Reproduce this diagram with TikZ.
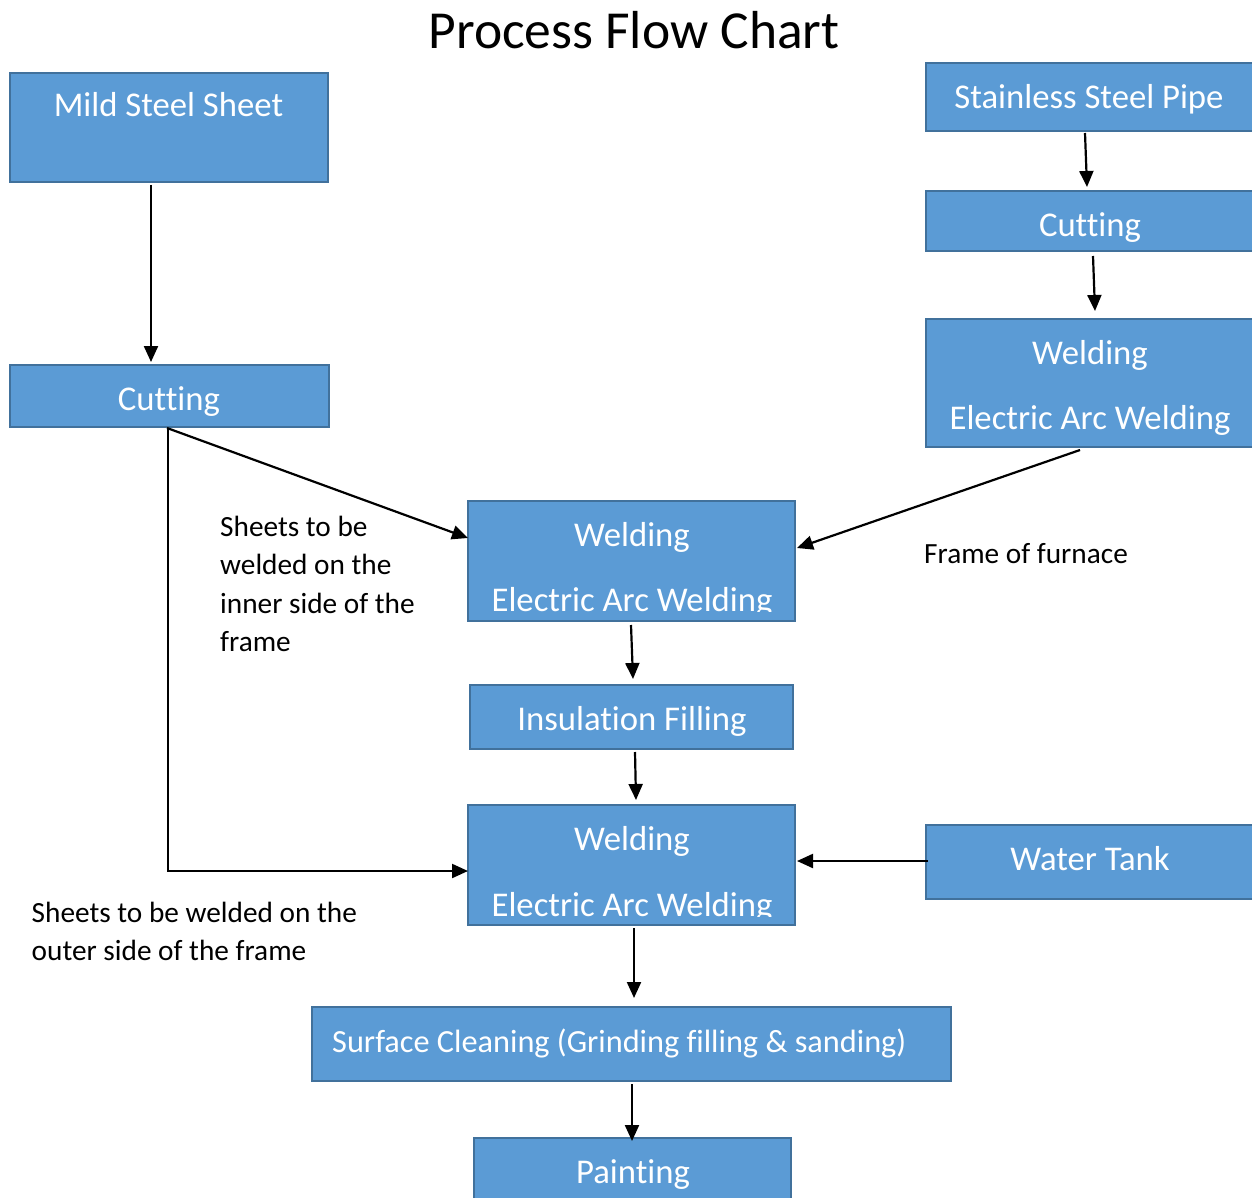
\documentclass[tikz,border=0pt]{standalone}
\usepackage{fontspec}
\setmainfont{Carlito}[Ligatures={NoCommon}]
\usetikzlibrary{calc,arrows.meta}
\definecolor{boxfill}{RGB}{91,155,213}
\definecolor{boxline}{RGB}{65,113,156}
\begin{document}
\begin{tikzpicture}[x=1pt,y=-1pt,
  procbox/.style={rectangle,draw=boxline,fill=boxfill,line width=2.5pt,inner sep=0pt,outer sep=0pt},
  boxtext/.style={text=white,font=\fontsize{34.7}{42}\selectfont,inner sep=0pt,anchor=base},
  lbl/.style={text=black,font=\fontsize{29.3}{38.5}\selectfont,inner sep=0pt,align=left},
  arr/.style={draw=black,line width=2.2pt,-{Triangle[length=16pt,width=14pt]}}]
\useasboundingbox (0,0) rectangle (1252,1198);
% title
\node[font=\fontsize{53.5}{64}\selectfont,inner sep=0pt,anchor=base] (title) at (634,49) {Process Flow Chart};
% boxes
\node[procbox,minimum width=318pt,minimum height=109pt] (ms) at (169,127.5) {};
\node[procbox,minimum width=319pt,minimum height=62pt] (cutL) at (169.5,396) {};
\node[procbox,minimum width=330pt,minimum height=68pt] (ssp) at (1091,97) {};
\node[procbox,minimum width=330pt,minimum height=60pt] (cutR) at (1091,221) {};
\node[procbox,minimum width=330pt,minimum height=128pt] (weldR) at (1091,383) {};
\node[procbox,minimum width=327pt,minimum height=120pt] (weldM) at (631.5,561) {};
\node[procbox,minimum width=323pt,minimum height=64pt] (ins) at (631.5,717) {};
\node[procbox,minimum width=327pt,minimum height=120pt] (weld2) at (631.5,865) {};
\node[procbox,minimum width=330pt,minimum height=74pt] (wt) at (1091,862) {};
\node[procbox,minimum width=639pt,minimum height=74pt] (sc) at (631.5,1044) {};
\node[procbox,minimum width=317pt,minimum height=68pt] (paint) at (632.5,1172) {};
% box texts
\node[boxtext] (tms) at (168.5,117) {Mild Steel Sheet};
\node[boxtext] (tcutL) at (169,410.5) {Cutting};
\node[boxtext] (tssp) at (1089,108.5) {Stainless Steel Pipe};
\node[boxtext] (tcutR) at (1090,237) {Cutting};
\node[boxtext] (tweldR1) at (1090,364) {Welding};
\node[boxtext] (tweldR2) at (1090,429) {Electric Arc Welding};
\node[boxtext] (tweldM1) at (632,546) {Welding};
\begin{scope}
\clip ($(weldM.north west)+(2,2)$) rectangle ($(weldM.south east)+(-2,-10)$);
\node[boxtext] (tweldM2) at (632,611) {Electric Arc Welding};
\end{scope}
\node[boxtext] (tins) at (632,730.5) {Insulation Filling};
\node[boxtext] (tweld21) at (632,850.5) {Welding};
\begin{scope}
\clip ($(weld2.north west)+(2,2)$) rectangle ($(weld2.south east)+(-2,-9)$);
\node[boxtext] (tweld22) at (632,916) {Electric Arc Welding};
\end{scope}
\node[boxtext] (twt) at (1090,870.5) {Water Tank};
\node[boxtext,font=\fontsize{32.3}{40}\selectfont,anchor=base west] (tsc) at (332,1052) {Surface Cleaning (Grinding filling \& sanding)};
\node[boxtext] (tpaint) at (633,1183.5) {Painting};
% labels (base anchor = last line)
\node[lbl,anchor=base west] (linner) at (220,651.7) {Sheets to be\\welded on the\\inner side of the\\frame};
\node[lbl,anchor=base west] (lframe) at (924,563.3) {Frame of furnace};
\node[lbl,anchor=base west] (louter) at (31.5,960.5) {Sheets to be welded on the\\outer side of the frame};
% connectors
\draw[arr] ($(ms.south west)+(141,3)$) -- ($(cutL.north west)+(141,-3)$);
\draw[arr] ($(ssp.south)+(-6,2)$) -- ($(cutR.north)+(-4,-4)$);
\draw[arr] ($(cutR.south)+(2,5)$) -- ($(weldR.north)+(4,-8)$);
\draw[arr] ($(weldR.south)+(-11,3)$) -- ($(weldM.north east)+(2,47)$);
\draw[arr] ($(cutL.south)+(-2.5,1)$) -- ($(weldM.north west)+(0,37)$);
\draw[arr] ($(cutL.south)+(-1.5,1)$) |- ($(weld2.west)+(0,6)$);
\draw[arr] ($(weldM.south)+(-0.5,4)$) -- ($(ins.north)+(1.5,-6)$);
\draw[arr] ($(ins.south)+(3.5,3)$) -- ($(weld2.north)+(4.5,-5)$);
\draw[arr] ($(wt.west)+(2,-1)$) -- ($(weld2.east)+(2,-4)$);
\draw[arr] ($(weld2.south)+(2.5,3)$) -- ($(sc.north)+(2.5,-9)$);
\draw[arr] ($(sc.south)+(0.5,3)$) -- ($(paint.north)+(-0.5,3)$);
\end{tikzpicture}
\end{document}
